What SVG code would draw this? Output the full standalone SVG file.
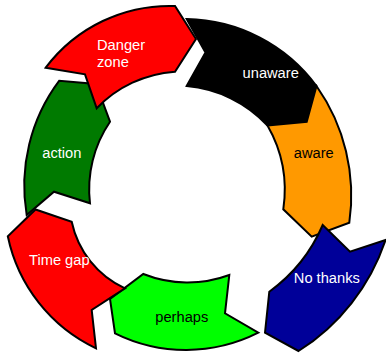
<svg xmlns="http://www.w3.org/2000/svg" width="386" height="353" viewBox="0 0 386 353">
<style>
.seg{stroke:#000;stroke-width:2;stroke-linejoin:miter}
.t{font-family:"Liberation Sans",Arial,sans-serif;font-size:14.67px;text-anchor:middle}
.w{fill:#fff}
.b{fill:#000}
</style>
<rect width="386" height="353" fill="#fff"/>
<g id="unaware">
<path class="seg" fill="#000" d="M186.7,19 A165,165 0 0 1 316.5,86 L306.7,121.7 L267.5,125.5 A125,125 0 0 0 186.7,86 L205.5,52.5 Z"/>
<text class="t w" x="270.7" y="78.3">unaware</text>
</g>
<g id="aware">
<path class="seg" fill="#FF9900" d="M316.5,86 A190,190 0 0 1 349.3,222.7 L311.7,236.7 L283.3,209.3 A130,130 0 0 0 267.5,125.5 L306.7,121.7 Z"/>
<text class="t b" x="313.8" y="158.3">aware</text>
</g>
<g id="nothanks">
<path class="seg" fill="#000099" d="M385.5,240 A210,210 0 0 1 298.5,351 L265,332.7 L269.3,291.7 A160,160 0 0 0 322.7,225 L350,251.7 Z"/>
<text class="t w" x="326.8" y="283.3">No thanks</text>
</g>
<g id="perhaps">
<path class="seg" fill="#00FF00" d="M258.3,332.7 A160,160 0 0 1 115,333.3 L110,299 L143.3,274 A120,120 0 0 0 229.3,275 L225,313.3 Z"/>
<text class="t b" x="181.8" y="321.7">perhaps</text>
</g>
<g id="timegap">
<path class="seg" fill="#FF0000" d="M96,348.3 A160,160 0 0 1 7.8,236.3 L35.5,209.5 L71.7,221.7 A95,95 0 0 0 125,288.3 L91.7,310 Z"/>
<text class="t w" x="59.3" y="265">Time gap</text>
</g>
<g id="action">
<path class="seg" fill="#007A00" d="M26.7,215 A175,175 0 0 1 59.3,80.7 L96,84 L110,121.7 A120,120 0 0 0 90,203.3 L54,191.7 Z"/>
<text class="t w" x="61.8" y="157.7">action</text>
</g>
<g id="dangerzone">
<path class="seg" fill="#FF0000" d="M45.7,67.7 A155,155 0 0 1 175,6 L196,39 L175,71.7 A120,120 0 0 0 96.7,108.3 L85,74.3 Z"/>
<text class="t w" x="97" y="50" style="text-anchor:start">Danger</text>
<text class="t w" x="97" y="66.7" style="text-anchor:start">zone</text>
</g>
<g id="connectors"></g>
</svg>
